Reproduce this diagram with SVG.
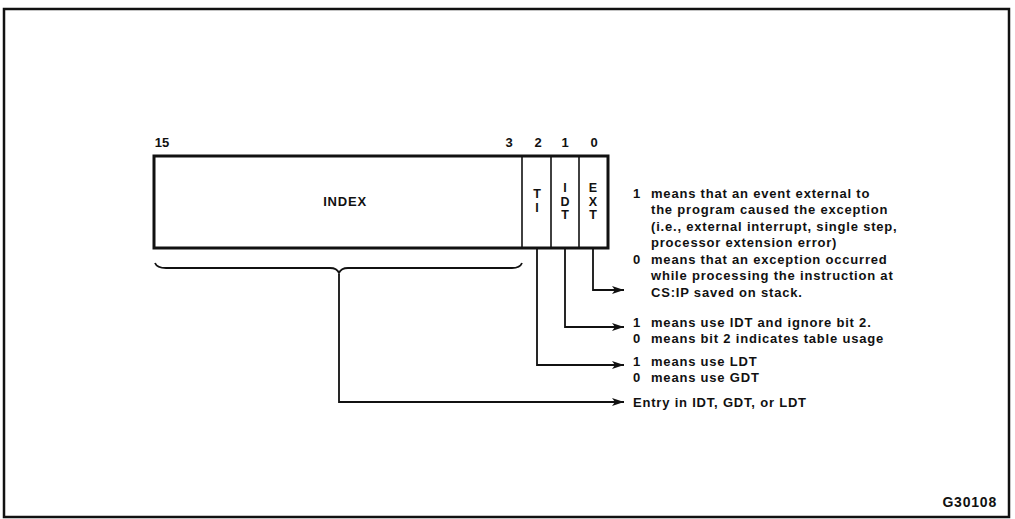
<svg xmlns="http://www.w3.org/2000/svg" width="1015" height="519" viewBox="0 0 1015 519">
<defs>
<style>
text{font-family:"Liberation Sans",Arial,sans-serif;font-weight:bold;fill:#111;}
.t{font-size:13px;letter-spacing:0.8px;}
.b{font-size:12.5px;text-anchor:middle;}
.n{font-size:13px;text-anchor:middle;}
.c{fill:none;stroke:#111;stroke-width:1.8;}
</style>
<marker id="ah" viewBox="0 0 12 8" refX="12" refY="4" markerWidth="12" markerHeight="8" markerUnits="userSpaceOnUse" orient="auto">
<path d="M0,0 L12,4 L0,8 L3,4 Z" fill="#111"/>
</marker>
</defs>
<rect width="1015" height="519" fill="#fff"/>
<rect x="4" y="9" width="1005" height="508" fill="none" stroke="#111" stroke-width="2.5"/>
<g id="register">
<rect x="154" y="156" width="454" height="92" fill="none" stroke="#111" stroke-width="3"/>
<line x1="522" y1="156" x2="522" y2="248" stroke="#111" stroke-width="1.6"/>
<line x1="551" y1="156" x2="551" y2="248" stroke="#111" stroke-width="1.6"/>
<line x1="579" y1="156" x2="579" y2="248" stroke="#111" stroke-width="1.6"/>
<text class="n" x="162" y="147">15</text>
<text class="n" x="509" y="147">3</text>
<text class="n" x="538" y="147">2</text>
<text class="n" x="565" y="147">1</text>
<text class="n" x="594" y="147">0</text>
<text class="t" x="345" y="206" text-anchor="middle">INDEX</text>
</g>
<g id="ti">
<text class="b" x="537" y="198">T</text>
<text class="b" x="537" y="212">I</text>
</g>
<g id="idt">
<text class="b" x="565" y="192">I</text>
<text class="b" x="565" y="205.5">D</text>
<text class="b" x="565" y="219">T</text>
</g>
<g id="ext">
<text class="b" x="593" y="192">E</text>
<text class="b" x="593" y="205.5">X</text>
<text class="b" x="593" y="219">T</text>
</g>
<g id="connectors">
<path class="c" d="M155,263 Q157,268 166,268 L330,268 Q337,268 339,273 Q341,268 348,268 L512,268 Q520,268 522,263"/>
<polyline class="c" points="593,248 593,290 624,290" marker-end="url(#ah)"/>
<polyline class="c" points="565,248 565,327 624,327" marker-end="url(#ah)"/>
<polyline class="c" points="537,248 537,365 624,365" marker-end="url(#ah)"/>
<polyline class="c" points="339,274 339,402 624,402" marker-end="url(#ah)"/>
</g>
<g id="ext-desc">
<text class="t" x="633" y="197.5">1</text>
<text class="t" x="651" y="197.5">means that an event external to</text>
<text class="t" x="651" y="214">the program caused the exception</text>
<text class="t" x="651" y="230.5">(i.e., external interrupt, single step,</text>
<text class="t" x="651" y="247">processor extension error)</text>
<text class="t" x="633" y="263.5">0</text>
<text class="t" x="651" y="263.5">means that an exception occurred</text>
<text class="t" x="651" y="280">while processing the instruction at</text>
<text class="t" x="651" y="296.5">CS:IP saved on stack.</text>
</g>
<g id="idt-desc">
<text class="t" x="633" y="326.5">1</text>
<text class="t" x="651" y="326.5">means use IDT and ignore bit 2.</text>
<text class="t" x="633" y="342.5">0</text>
<text class="t" x="651" y="342.5">means bit 2 indicates table usage</text>
</g>
<g id="ti-desc">
<text class="t" x="633" y="365.5">1</text>
<text class="t" x="651" y="365.5">means use LDT</text>
<text class="t" x="633" y="381.5">0</text>
<text class="t" x="651" y="381.5">means use GDT</text>
</g>
<g id="index-desc">
<text class="t" x="633" y="407">Entry in IDT, GDT, or LDT</text>
</g>
<text class="t" x="997" y="507" text-anchor="end" style="font-size:14px">G30108</text>
</svg>
